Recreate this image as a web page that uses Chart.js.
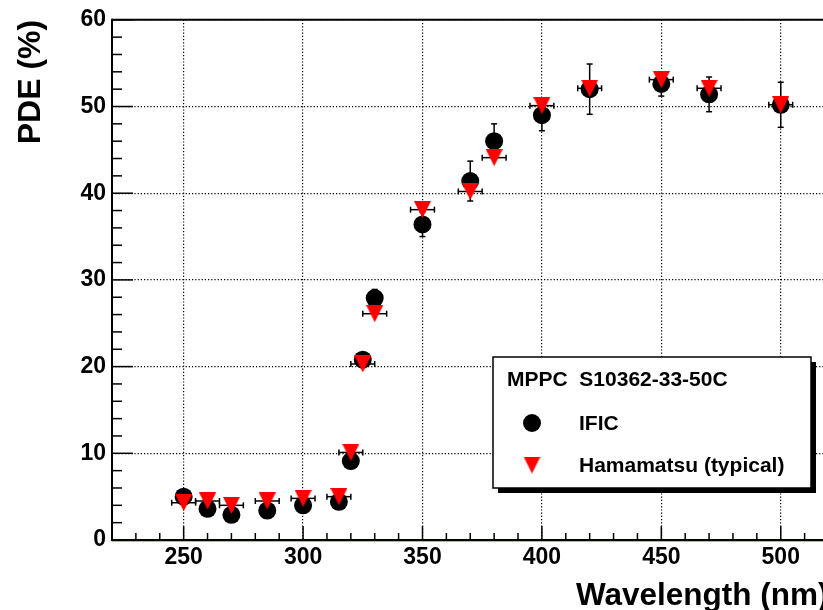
<!DOCTYPE html>
<html>
<head>
<meta charset="utf-8">
<script src="https://cdn.jsdelivr.net/npm/chart.js@4.4.0/dist/chart.umd.min.js"></script>
<style>
  html, body { margin: 0; padding: 0; background: #fff; overflow: hidden; }
  #pde { display: block; }
</style>
</head>
<body>
<canvas id="pde" width="840" height="610"></canvas>
<script>
// data
const wavelength = [250, 260, 270, 285, 300, 315, 320, 325, 330, 350, 370, 380, 400, 420, 450, 470, 500];
const ificPDE = [5.0, 3.6, 2.9, 3.4, 4.0, 4.4, 9.1, 20.8, 27.9, 36.4, 41.4, 46.0, 49.0, 52.0, 52.6, 51.4, 50.2];
const ificErr = [0.3, 0.3, 0.3, 0.3, 0.3, 0.4, 0.5, 0.6, 1.0, 1.4, 2.3, 2.0, 1.8, 2.9, 1.4, 2.0, 2.6];
const hamaPDE = [4.3, 4.5, 4.0, 4.5, 4.8, 5.0, 10.1, 20.3, 26.1, 38.1, 40.2, 44.1, 50.1, 52.1, 53.1, 52.1, 50.2];
const hamaErr = [5, 5, 5, 5, 5, 5, 5, 5, 5, 5, 5, 5, 5, 5, 5, 5, 5]; // nm
const xTicks = [250, 300, 350, 400, 450, 500];
const legendHeader = "MPPC  S10362-33-50C";

const FONT = '"Liberation Sans", Arial, Helvetica, sans-serif';
Chart.defaults.font.family = FONT;
Chart.defaults.color = "#000";

// ROOT style down triangle, centred on its bounding box
function makeTriangle(w, h) {
  const c = document.createElement("canvas");
  c.width = w; c.height = h;
  const g = c.getContext("2d");
  g.fillStyle = "#ff0000";
  g.beginPath();
  g.moveTo(0, 0); g.lineTo(w, 0); g.lineTo(w / 2, h);
  g.closePath(); g.fill();
  return c;
}
const tri = makeTriangle(17, 17);

function line(ctx, x1, y1, x2, y2) {
  ctx.beginPath(); ctx.moveTo(x1, y1); ctx.lineTo(x2, y2); ctx.stroke();
}

const rootStyle = {
  id: "rootStyle",
  beforeDatasetDraw(chart, args) {
    const { ctx, scales: { x, y } } = chart;
    ctx.save();
    ctx.strokeStyle = "#000";
    ctx.lineWidth = 1.5;
    if (args.index === 0) {
      // IFIC: vertical errors
      wavelength.forEach((w, i) => {
        const px = x.getPixelForValue(w);
        const y1 = y.getPixelForValue(ificPDE[i] - ificErr[i]);
        const y2 = y.getPixelForValue(ificPDE[i] + ificErr[i]);
        line(ctx, px, y1, px, y2);
        line(ctx, px - 3, y1, px + 3, y1);
        line(ctx, px - 3, y2, px + 3, y2);
      });
    } else {
      // Hamamatsu: horizontal errors
      wavelength.forEach((w, i) => {
        const py = y.getPixelForValue(hamaPDE[i]);
        const x1 = x.getPixelForValue(w - hamaErr[i]);
        const x2 = x.getPixelForValue(w + hamaErr[i]);
        line(ctx, x1, py, x2, py);
        line(ctx, x1, py - 3, x1, py + 3);
        line(ctx, x2, py - 3, x2, py + 3);
      });
    }
    ctx.restore();
  },
  afterDraw(chart) {
    const { ctx, chartArea: a, scales: { x, y } } = chart;
    ctx.save();
    // frame
    ctx.strokeStyle = "#000";
    ctx.lineWidth = 2;
    line(ctx, a.left, a.top, a.right, a.top);
    line(ctx, a.left, a.top - 1, a.left, a.bottom + 1);
    line(ctx, a.left, a.bottom, a.right, a.bottom);
    ctx.strokeStyle = "#e4a0a0";
    ctx.lineWidth = 1;
    line(ctx, a.left, a.bottom + 1.5, a.right, a.bottom + 1.5);
    // inside ticks
    ctx.strokeStyle = "#000";
    ctx.lineWidth = 1.5;
    for (let v = 220; v <= 520; v += 10) {
      const px = x.getPixelForValue(v);
      const len = v % 50 === 0 ? 14 : 7;
      line(ctx, px, a.bottom, px, a.bottom - len);
    }
    for (let v = 0; v <= 60; v += 2) {
      const py = y.getPixelForValue(v);
      const len = v % 10 === 0 ? 21 : 10;
      line(ctx, a.left, py, a.left + len, py);
    }
    // legend box
    const bx = 493, by = 357, bw = 318, bh = 131;
    ctx.fillStyle = "#000";
    ctx.fillRect(bx + 5, by + 5, bw, bh);
    ctx.fillStyle = "#fff";
    ctx.fillRect(bx, by, bw, bh);
    ctx.lineWidth = 1.5;
    ctx.strokeRect(bx, by, bw, bh);
    ctx.fillStyle = "#000";
    ctx.font = "bold 21px " + FONT;
    ctx.textBaseline = "middle";
    ctx.textAlign = "left";
    ctx.fillText(legendHeader, 507, 380);
    const ds = chart.data.datasets;
    ctx.beginPath();
    ctx.arc(532, 423, 9, 0, Math.PI * 2);
    ctx.fill();
    ctx.fillText(ds[0].label, 579, 424);
    ctx.drawImage(tri, 532 - 8.5, 465 - 8.5);
    ctx.fillText(ds[1].label, 579, 466);
    ctx.restore();
  }
};

const ctx = document.getElementById("pde").getContext("2d");
const myChart = new Chart(ctx, {
  type: "scatter",
  data: {
    datasets: [
      {
        label: "IFIC",
        data: wavelength.map((w, i) => ({ x: w, y: ificPDE[i] })),
        pointStyle: "circle",
        pointRadius: 9,
        backgroundColor: "#000",
        borderWidth: 0,
        order: 2
      },
      {
        label: "Hamamatsu (typical)",
        data: wavelength.map((w, i) => ({ x: w, y: hamaPDE[i] })),
        pointStyle: tri,
        pointRadius: 9,
        backgroundColor: "#ff0000",
        borderWidth: 0,
        order: 1
      }
    ]
  },
  options: {
    responsive: false,
    animation: false,
    events: [],
    layout: { padding: { left: 0, top: 18, right: 11.5, bottom: 0 } },
    plugins: { legend: { display: false }, tooltip: { enabled: false } },
    scales: {
      x: {
        type: "linear",
        min: 220,
        max: 520,
        afterBuildTicks: (s) => { s.ticks = xTicks.map(v => ({ value: v })); },
        afterFit: (s) => { s.height = 70; },
        grid: { color: "#000", lineWidth: 1.2, drawTicks: false },
        border: { display: false, dash: [1.2, 2] },
        ticks: { font: { size: 23, weight: "bold" }, color: "#000", padding: 4, maxRotation: 0 },
        title: {
          display: true,
          text: "Wavelength (nm)",
          align: "end",
          color: "#000",
          font: { size: 31.5, weight: "bold", lineHeight: 0.85 },
          padding: 0
        }
      },
      y: {
        min: 0,
        max: 60,
        afterFit: (s) => { s.width = 112; },
        grid: { color: "#000", lineWidth: 1.2, drawTicks: false },
        border: { display: false, dash: [1.2, 2] },
        ticks: { stepSize: 10, font: { size: 23, weight: "bold" }, color: "#000", padding: 6 },
        title: {
          display: true,
          text: "PDE (%)",
          align: "end",
          color: "#000",
          font: { size: 32, weight: "bold", lineHeight: 1.2 },
          padding: { top: 12, bottom: 0 }
        }
      }
    }
  },
  plugins: [rootStyle]
});
</script>
</body>
</html>
